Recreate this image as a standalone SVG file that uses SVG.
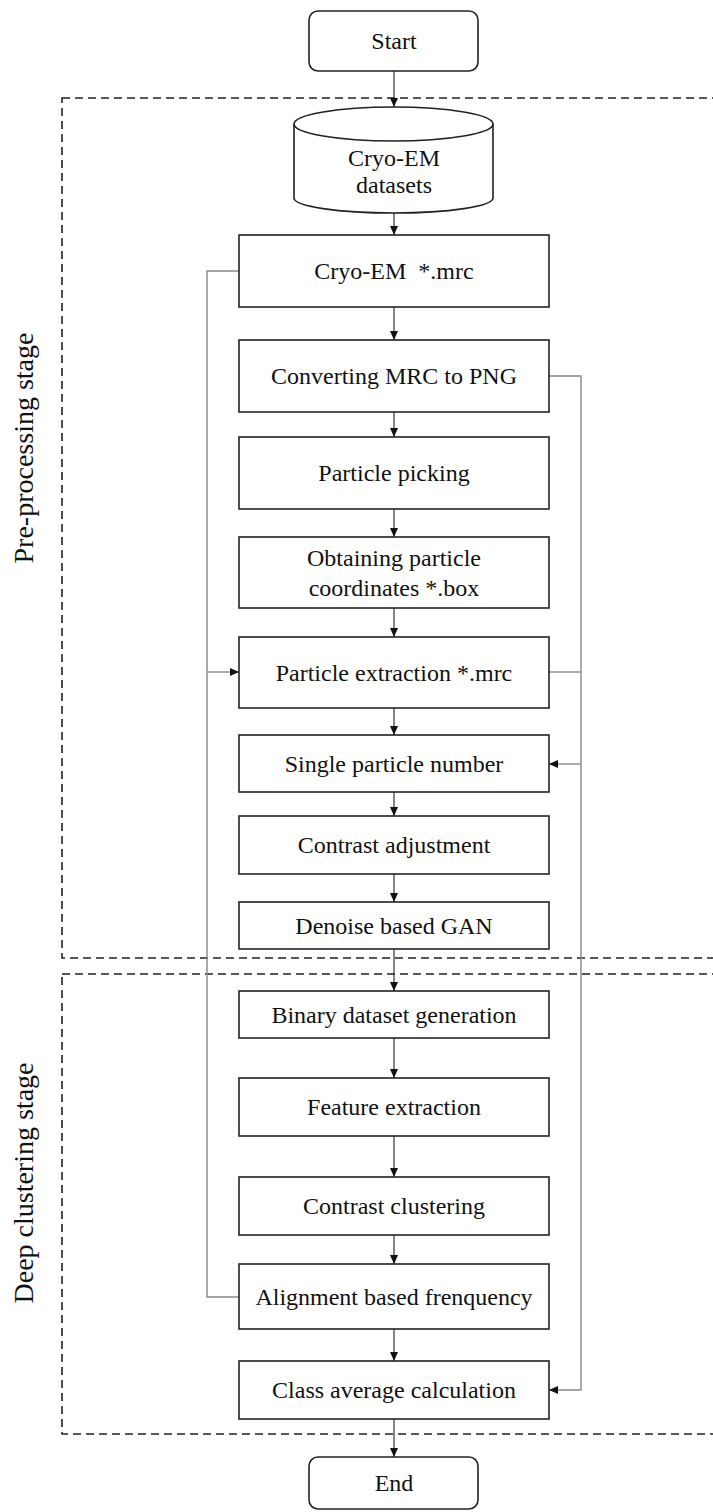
<svg xmlns="http://www.w3.org/2000/svg" width="713" height="1512" viewBox="0 0 713 1512">
<defs>
<marker id="ah" markerWidth="10" markerHeight="10" refX="9" refY="4" orient="auto" markerUnits="userSpaceOnUse">
<path d="M0,0 L9,4 L0,8 Z" fill="#111"/>
</marker>
</defs>
<style>
.box{fill:#fff;stroke:#222;stroke-width:1.6}
.t{font-family:"Liberation Serif","Times New Roman",serif;font-size:24px;fill:#111;text-anchor:middle}
.lab{font-family:"Liberation Serif","Times New Roman",serif;font-size:28px;fill:#111;text-anchor:middle}
.dash{fill:none;stroke:#222;stroke-width:1.6;stroke-dasharray:8 5}
.c{fill:none;stroke:#222;stroke-width:1.1}
.g{fill:none;stroke:#888;stroke-width:1.4}
</style>
<rect class="dash" x="62" y="98" width="670" height="860"/>
<rect class="dash" x="62" y="974" width="670" height="460"/>
<text class="lab" transform="translate(33,448) rotate(-90)">Pre-processing stage</text>
<text class="lab" transform="translate(33,1183) rotate(-90)">Deep clustering stage</text>
<g id="connectors">
<line class="c" x1="394" y1="71" x2="394" y2="107" marker-end="url(#ah)"/>
<line class="c" x1="394" y1="213" x2="394" y2="235" marker-end="url(#ah)"/>
<line class="c" x1="394" y1="307" x2="394" y2="340" marker-end="url(#ah)"/>
<line class="c" x1="394" y1="412" x2="394" y2="437" marker-end="url(#ah)"/>
<line class="c" x1="394" y1="509" x2="394" y2="537" marker-end="url(#ah)"/>
<line class="c" x1="394" y1="608" x2="394" y2="637" marker-end="url(#ah)"/>
<line class="c" x1="394" y1="708" x2="394" y2="735" marker-end="url(#ah)"/>
<line class="c" x1="394" y1="792" x2="394" y2="816" marker-end="url(#ah)"/>
<line class="c" x1="394" y1="874" x2="394" y2="902" marker-end="url(#ah)"/>
<line class="c" x1="394" y1="949" x2="394" y2="991" marker-end="url(#ah)"/>
<line class="c" x1="394" y1="1038" x2="394" y2="1078" marker-end="url(#ah)"/>
<line class="c" x1="394" y1="1136" x2="394" y2="1177" marker-end="url(#ah)"/>
<line class="c" x1="394" y1="1235" x2="394" y2="1264" marker-end="url(#ah)"/>
<line class="c" x1="394" y1="1329" x2="394" y2="1361" marker-end="url(#ah)"/>
<line class="c" x1="394" y1="1419" x2="394" y2="1457" marker-end="url(#ah)"/>
<polyline class="g" points="239,271 207,271 207,1297 239,1297"/>
<line class="g" x1="207" y1="672" x2="239" y2="672" marker-end="url(#ah)"/>
<polyline class="g" points="549,376 581,376 581,1390 549,1390" marker-end="url(#ah)"/>
<line class="g" x1="549" y1="672" x2="581" y2="672"/>
<line class="g" x1="581" y1="764" x2="549" y2="764" marker-end="url(#ah)"/>
</g>
<g id="start"><rect class="box" x="309" y="11" width="169" height="60" rx="9"/><text class="t" x="394" y="49">Start</text></g>
<g id="datasets">
<path class="box" d="M294,124 A99.5,17 0 0 1 493,124 L493,198 A99.5,15 0 0 1 294,198 Z"/>
<path class="box" style="fill:none" d="M294,124 A99.5,17 0 0 0 493,124"/>
<text class="t" x="394" y="166">Cryo-EM</text><text class="t" x="394" y="193">datasets</text>
</g>
<g id="n1"><rect class="box" x="239" y="235" width="310" height="72"/><text class="t" x="394" y="279" style="white-space:pre" xml:space="preserve">Cryo-EM  *.mrc</text></g>
<g id="n2"><rect class="box" x="239" y="340" width="310" height="72"/><text class="t" x="394" y="384">Converting MRC to PNG</text></g>
<g id="n3"><rect class="box" x="239" y="437" width="310" height="72"/><text class="t" x="394" y="481">Particle picking</text></g>
<g id="n4"><rect class="box" x="239" y="537" width="310" height="71"/><text class="t" x="394" y="566">Obtaining particle</text><text class="t" x="394" y="596">coordinates *.box</text></g>
<g id="n5"><rect class="box" x="239" y="637" width="310" height="71"/><text class="t" x="394" y="681">Particle extraction *.mrc</text></g>
<g id="n6"><rect class="box" x="239" y="735" width="310" height="57"/><text class="t" x="394" y="772">Single particle number</text></g>
<g id="n7"><rect class="box" x="239" y="816" width="310" height="58"/><text class="t" x="394" y="853">Contrast adjustment</text></g>
<g id="n8"><rect class="box" x="239" y="902" width="310" height="47"/><text class="t" x="394" y="934">Denoise based GAN</text></g>
<g id="n9"><rect class="box" x="239" y="991" width="310" height="47"/><text class="t" x="394" y="1023">Binary dataset generation</text></g>
<g id="n10"><rect class="box" x="239" y="1078" width="310" height="58"/><text class="t" x="394" y="1115">Feature extraction</text></g>
<g id="n11"><rect class="box" x="239" y="1177" width="310" height="58"/><text class="t" x="394" y="1214">Contrast clustering</text></g>
<g id="n12"><rect class="box" x="239" y="1264" width="310" height="65"/><text class="t" x="394" y="1305">Alignment based frenquency</text></g>
<g id="n13"><rect class="box" x="239" y="1361" width="310" height="58"/><text class="t" x="394" y="1398">Class average calculation</text></g>
<g id="end"><rect class="box" x="309" y="1457" width="169" height="52" rx="9"/><text class="t" x="394" y="1491">End</text></g>
</svg>
